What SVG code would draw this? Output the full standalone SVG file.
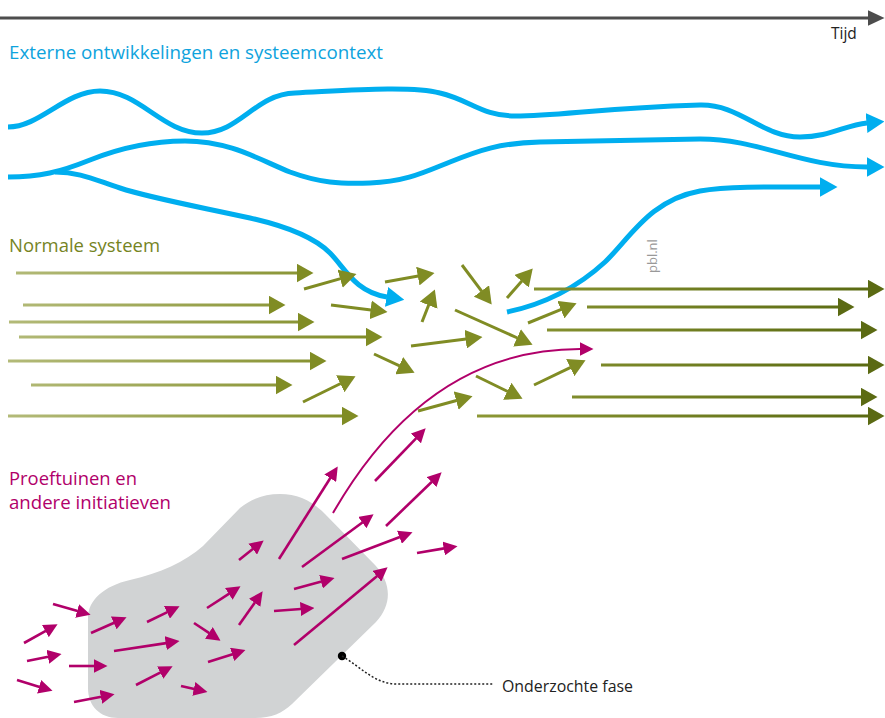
<svg xmlns="http://www.w3.org/2000/svg" width="885" height="718" viewBox="0 0 885 718">
<style>
.t{font-family:"Open Sans","Noto Sans","Liberation Sans",sans-serif}
.blue{fill:none;stroke:#00aeef;stroke-width:5;stroke-linecap:butt}
.gl{stroke:url(#gL);stroke-width:3}
.gr{stroke:url(#gR);stroke-width:3}
.gs{stroke:#808c24;stroke-width:3}
.mg{stroke:#b1006a;stroke-width:2.6}
</style>
<defs>
<linearGradient id="gL" gradientUnits="userSpaceOnUse" x1="0" y1="0" x2="380" y2="0"><stop offset="0" stop-color="#b4bb7a"/><stop offset="1" stop-color="#7f8b24"/></linearGradient>
<linearGradient id="gR" gradientUnits="userSpaceOnUse" x1="470" y1="0" x2="870" y2="0"><stop offset="0" stop-color="#8d9835"/><stop offset="1" stop-color="#5a6a12"/></linearGradient>
<marker id="mG" viewBox="0 0 17 19" refX="0.5" refY="9.5" markerWidth="17" markerHeight="19" markerUnits="userSpaceOnUse" orient="auto"><path d="M0,0 L17,9.5 L0,19 Z" fill="#808c24"/></marker>
<marker id="mGd" viewBox="0 0 17 19" refX="0.5" refY="9.5" markerWidth="17" markerHeight="19" markerUnits="userSpaceOnUse" orient="auto"><path d="M0,0 L17,9.5 L0,19 Z" fill="#5b6a13"/></marker>
<marker id="mB" viewBox="0 0 18 20" refX="0.5" refY="10" markerWidth="18" markerHeight="20" markerUnits="userSpaceOnUse" orient="auto"><path d="M0,0 L18,10 L0,20 Z" fill="#00aeef"/></marker>
<marker id="mM" viewBox="0 0 14 14" refX="0.5" refY="7" markerWidth="14" markerHeight="14" markerUnits="userSpaceOnUse" orient="auto"><path d="M0,0 L14,7 L0,14 Z" fill="#b1006a"/></marker>
<marker id="mA" viewBox="0 0 17 16" refX="0.5" refY="8" markerWidth="17" markerHeight="16" markerUnits="userSpaceOnUse" orient="auto"><path d="M0,0 L17,8 L0,16 Z" fill="#4d4d4d"/></marker>
</defs>

<g id="time-axis">
<line x1="0" y1="18" x2="868" y2="18" stroke="#4d4d4d" stroke-width="2.8" marker-end="url(#mA)"/>
<text class="t" x="831" y="39" font-size="15.5" fill="#222">Tijd</text>
</g>

<g id="labels">
<text class="t" x="9" y="59" font-size="18" fill="#0ea3dd" textLength="374" lengthAdjust="spacingAndGlyphs">Externe ontwikkelingen en systeemcontext</text>
<text class="t" x="9" y="252" font-size="18" fill="#76841f" textLength="151" lengthAdjust="spacingAndGlyphs">Normale systeem</text>
<text class="t" x="9" y="485" font-size="18" fill="#b1006a" textLength="128" lengthAdjust="spacingAndGlyphs">Proeftuinen en</text>
<text class="t" x="9" y="509" font-size="18" fill="#b1006a" textLength="162" lengthAdjust="spacingAndGlyphs">andere initiatieven</text>
<text class="t" transform="translate(657,273) rotate(-90)" font-size="13" fill="#999">pbl.nl</text>
</g>

<g id="onderzochte-fase">
<path d="M280,494 C298,494 312,501 325,514 L375,565 C392,583 392,605 376,622 L292,704 C282,713 272,718 255,718 L118,718 C100,718 88,706 88,688 L88,618 C88,600 104,586 130,580 C160,573 185,562 203,546 L240,508 C253,498 265,494 280,494 Z" fill="#d1d3d4"/>
<circle cx="342" cy="656" r="4.2" fill="#000"/>
<path d="M342,656 C362,668 375,684 397,684 L494,684" fill="none" stroke="#222" stroke-width="1.5" stroke-dasharray="2 2"/>
<text class="t" x="502" y="692" font-size="15.5" fill="#222" textLength="131" lengthAdjust="spacingAndGlyphs">Onderzochte fase</text>
</g>

<g id="connectors">
<g id="external-curves">
<path class="blue" d="M8,127 C40,127 65,91 100,91 C140,91 162,133 202,133 C240,133 255,94 295,93 C340,91 410,85 440,93 C470,100 482,116 515,116 C560,116 600,108 700,105 C740,104 762,137 800,137 C830,137 845,125 867,123" marker-end="url(#mB)"/>
<path class="blue" d="M8,177 C40,177 60,172 90,160 C120,148 150,141 185,141 C230,141 260,160 290,172 C320,183 340,184 370,183 C405,182 425,172 450,162 C480,150 500,143 540,142 L700,139 C760,139 800,167 867,167" marker-end="url(#mB)"/>
<path class="blue" d="M55,172 C80,172 95,180 120,188 C150,198 200,207 250,218 C290,227 315,238 330,253 C345,268 355,292 387,297" marker-end="url(#mB)"/>
<path class="blue" d="M507,312 C550,303 580,285 605,262 C630,238 650,200 700,191 C730,186 780,187 820,187" marker-end="url(#mB)"/>
</g>

<g id="normal-system-in">
<line class="gl" x1="16" y1="273" x2="297" y2="273" marker-end="url(#mG)"/>
<line class="gl" x1="23" y1="305" x2="269" y2="305" marker-end="url(#mG)"/>
<line class="gl" x1="9" y1="322" x2="298" y2="322" marker-end="url(#mG)"/>
<line class="gl" x1="19" y1="337" x2="366" y2="337" marker-end="url(#mG)"/>
<line class="gl" x1="8" y1="361" x2="310" y2="361" marker-end="url(#mG)"/>
<line class="gl" x1="31" y1="385" x2="276" y2="385" marker-end="url(#mG)"/>
<line class="gl" x1="8" y1="416" x2="342" y2="416" marker-end="url(#mG)"/>
</g>

<g id="normal-system-turbulence">
<line class="gs" x1="304" y1="289" x2="340.6" y2="278.6" marker-end="url(#mG)"/>
<line class="gs" x1="385" y1="282" x2="418.3" y2="276" marker-end="url(#mG)"/>
<line class="gs" x1="462" y1="265" x2="481.8" y2="291.4" marker-end="url(#mG)"/>
<line class="gs" x1="507" y1="298" x2="521.9" y2="280.9" marker-end="url(#mG)"/>
<line class="gs" x1="331" y1="305" x2="371.1" y2="309.9" marker-end="url(#mG)"/>
<line class="gs" x1="422" y1="322" x2="428.8" y2="304.8" marker-end="url(#mG)"/>
<line class="gs" x1="455" y1="310" x2="517.5" y2="338" marker-end="url(#mG)"/>
<line class="gs" x1="528" y1="323" x2="561.3" y2="309.4" marker-end="url(#mG)"/>
<line class="gs" x1="411" y1="346" x2="466.1" y2="339.1" marker-end="url(#mG)"/>
<line class="gs" x1="374" y1="354" x2="399.6" y2="365.9" marker-end="url(#mG)"/>
<line class="gs" x1="303" y1="402" x2="340.7" y2="383.5" marker-end="url(#mG)"/>
<line class="gs" x1="418" y1="411" x2="456.6" y2="400.5" marker-end="url(#mG)"/>
<line class="gs" x1="476" y1="376" x2="507.7" y2="391.5" marker-end="url(#mG)"/>
<line class="gs" x1="534" y1="385" x2="570.7" y2="367.4" marker-end="url(#mG)"/>
</g>

<g id="normal-system-out">
<line class="gr" x1="534" y1="289" x2="868" y2="289" marker-end="url(#mGd)"/>
<line class="gr" x1="587" y1="307" x2="838" y2="307" marker-end="url(#mGd)"/>
<line class="gr" x1="547" y1="330" x2="861" y2="330" marker-end="url(#mGd)"/>
<line class="gr" x1="601" y1="365" x2="868" y2="365" marker-end="url(#mGd)"/>
<line class="gr" x1="572" y1="397" x2="861" y2="397" marker-end="url(#mGd)"/>
<line class="gr" x1="477" y1="416" x2="868" y2="416" marker-end="url(#mGd)"/>
</g>

<g id="initiatives">
<path d="M333,513 C375,440 450,349 580,349" fill="none" stroke="#b1006a" stroke-width="2" marker-end="url(#mM)"/>
<line class="mg" x1="375" y1="481" x2="416.3" y2="438.1" marker-end="url(#mM)"/>
<line class="mg" x1="386" y1="526" x2="431.9" y2="481.7" marker-end="url(#mM)"/>
<line class="mg" x1="279" y1="559" x2="330.5" y2="477.8" marker-end="url(#mM)"/>
<line class="mg" x1="302" y1="567" x2="362.7" y2="522.3" marker-end="url(#mM)"/>
<line class="mg" x1="342" y1="559" x2="399.9" y2="537" marker-end="url(#mM)"/>
<line class="mg" x1="417" y1="553" x2="444.2" y2="548.4" marker-end="url(#mM)"/>
<line class="mg" x1="239" y1="560" x2="253.1" y2="548.8" marker-end="url(#mM)"/>
<line class="mg" x1="207" y1="608" x2="229.2" y2="593.6" marker-end="url(#mM)"/>
<line class="mg" x1="239" y1="625" x2="254.9" y2="602.4" marker-end="url(#mM)"/>
<line class="mg" x1="274" y1="611" x2="301" y2="609" marker-end="url(#mM)"/>
<line class="mg" x1="294" y1="589" x2="321.5" y2="581.6" marker-end="url(#mM)"/>
<line class="mg" x1="294" y1="645" x2="377.2" y2="575.9" marker-end="url(#mM)"/>
<line class="mg" x1="194" y1="623" x2="209.3" y2="633.2" marker-end="url(#mM)"/>
<line class="mg" x1="208" y1="662" x2="232.6" y2="654.2" marker-end="url(#mM)"/>
<line class="mg" x1="147" y1="622" x2="167.4" y2="612.1" marker-end="url(#mM)"/>
<line class="mg" x1="114" y1="651" x2="166.2" y2="643.1" marker-end="url(#mM)"/>
<line class="mg" x1="91" y1="633" x2="114.2" y2="622.7" marker-end="url(#mM)"/>
<line class="mg" x1="53" y1="604" x2="77.6" y2="611.1" marker-end="url(#mM)"/>
<line class="mg" x1="24" y1="643" x2="45.8" y2="630.8" marker-end="url(#mM)"/>
<line class="mg" x1="27" y1="661" x2="48.3" y2="656.7" marker-end="url(#mM)"/>
<line class="mg" x1="69" y1="666" x2="94" y2="666" marker-end="url(#mM)"/>
<line class="mg" x1="17" y1="680" x2="39.6" y2="686.9" marker-end="url(#mM)"/>
<line class="mg" x1="74" y1="702" x2="101.3" y2="696.7" marker-end="url(#mM)"/>
<line class="mg" x1="136" y1="685" x2="160.6" y2="672.4" marker-end="url(#mM)"/>
<line class="mg" x1="181" y1="686" x2="194.3" y2="689" marker-end="url(#mM)"/>
</g>
</g>
</svg>
